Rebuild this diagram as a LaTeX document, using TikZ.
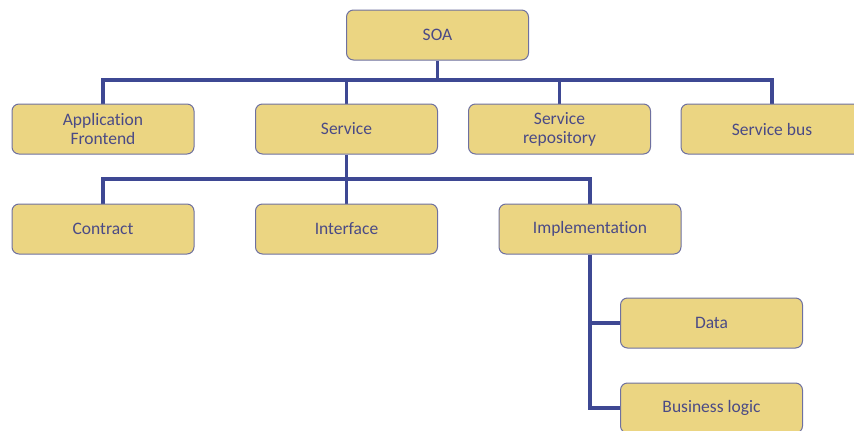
\documentclass[tikz,border=0pt]{standalone}
\usepackage{fontspec}
\setmainfont[Ligatures=NoCommon]{Carlito}
\usetikzlibrary{backgrounds}
\begin{document}
\definecolor{boxfill}{HTML}{EBD582}
\definecolor{boxline}{HTML}{6E70A0}
\definecolor{wire}{HTML}{3E4893}
\definecolor{label}{HTML}{4A4A86}
\begin{tikzpicture}[x=1pt,y=-1pt,
  box/.style={draw=boxline, line width=1pt, fill=boxfill, rounded corners=7pt,
    minimum width=182pt, minimum height=50pt, inner sep=0pt, align=center,
    text=label, font=\fontsize{17.5}{19}\selectfont},
  link/.style={draw=wire, line width=3.5pt}]
\useasboundingbox (0,0) rectangle (854,431);
\clip (0,0) rectangle (854,431);
% top level
\node[box] (soa) at (437.5,35) {SOA};
% second level
\node[box] (app) at (103,129) {Application\\Frontend};
\node[box] (svc) at (346.5,129) {Service};
\node[box] (repo) at (559.5,129) {Service\\repository};
\node[box] (bus) at (772,129) {Service bus};
% third level
\node[box] (contract) at (103,229) {Contract};
\node[box] (iface) at (346.5,229) {Interface};
\node[box] (impl) at (590,229) {Implementation};
% fourth level
\node[box] (data) at (711.5,323) {Data};
\node[box] (logic) at (711.5,408) {Business logic};
% branching points
\coordinate (j1) at (437.5,80);
\coordinate (j2) at (346.5,179);
% connectors, kept behind the boxes
\begin{scope}[on background layer]
\draw[link] (soa.south) -- (j1);
\draw[link] (app.north) |- (j1) -| (bus.north);
\draw[link] (j1 -| svc.north) -- (svc.north);
\draw[link] (j1 -| repo.north) -- (repo.north);
\draw[link] (svc.south) -- (j2);
\draw[link] (contract.north) |- (j2) -| (impl.north);
\draw[link] (j2 -| iface.north) -- (iface.north);
\draw[link] (impl.south) |- (logic.west);
\draw[link] (impl.south |- data.west) -- (data.west);
\end{scope}
\end{tikzpicture}
\end{document}
